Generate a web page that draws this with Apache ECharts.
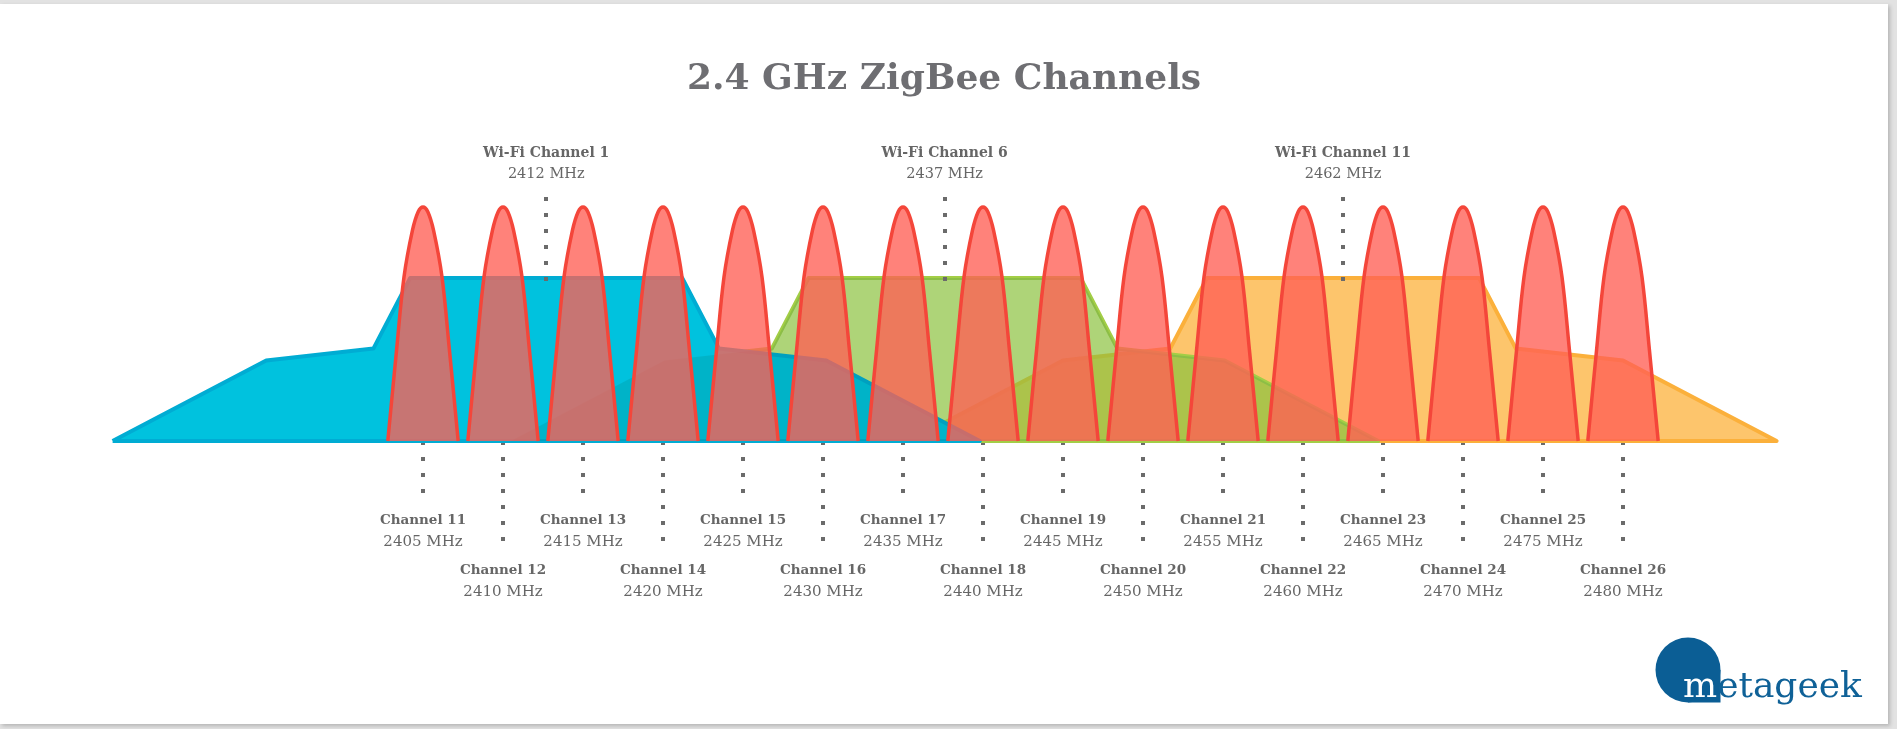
<!DOCTYPE html>
<html><head><meta charset="utf-8">
<script src="https://cdn.jsdelivr.net/npm/echarts@6/dist/echarts.min.js"></script>
<style>
html,body{margin:0;padding:0;background:#e2e2e2;width:1897px;height:729px;overflow:hidden}
#paper{position:absolute;left:0;top:4px;width:1888px;height:720px;background:#fff;box-shadow:2px 2px 4px rgba(0,0,0,0.20)}
#chart{width:1888px;height:720px}
</style></head><body>
<div id="paper"><div id="chart"></div></div>
<script>
// ---- data ----
const chartTitle = '2.4 GHz ZigBee Channels';
const zigbeeChannels = [11,12,13,14,15,16,17,18,19,20,21,22,23,24,25,26];
const zigbeeMHz = [2405,2410,2415,2420,2425,2430,2435,2440,2445,2450,2455,2460,2465,2470,2475,2480];
const wifiChannels = [1, 6, 11];
const wifiMHz = [2412, 2437, 2462];
// centre of each Wi-Fi mask as drawn in the picture (MHz on the axis)
const wifiCenters = [2412.7, 2437.6, 2462.5];
// Wi-Fi spectral mask outline: [offset MHz, relative level]
const wifiMask = [[-27.1,0],[-17.5,34.4],[-10.8,39.5],[-8.5,69.7],[8.5,69.7],[10.8,39.5],[17.5,34.4],[27.1,0],[-27.1,0]];
// ZigBee lobe outline: [offset MHz, relative level]
const zigbeeLobe = [[-2.2,0],[-1.65,39],[-1.19,70],[-0.66,90],[-0.3,98],[0,100],[0.3,98],[0.66,90],[1.19,70],[1.65,39],[2.2,0]];
const markerTop = 104.3;
const markerBottom = 68.4;

// ---- styling ----
const FONT = 'DejaVu Serif';
const GREY = '#666666';
const wifiFill = ['#00c2de', 'rgba(174,219,60,0.65)', '#fdc56c'];
const wifiStroke = ['#00acd3', '#a3ce46', '#fbb03b'];
const wifiZ = [4, 3, 2]; // blue in front, orange at back

const series = [];
[2, 1, 0].forEach(i => {
  const c = wifiCenters[i];
  series.push({
    type: 'line', name: 'Wi-Fi Channel ' + wifiChannels[i],
    data: wifiMask.map(p => [c + p[0], p[1]]),
    symbol: 'none', silent: true, z: wifiZ[i],
    lineStyle: { color: wifiStroke[i], width: 4, join: 'round' },
    areaStyle: { color: wifiFill[i], opacity: 1 },
    markLine: {
      silent: true, symbol: ['none', 'none'], z: 8,
      lineStyle: { color: '#6b6b6b', width: 4, type: [4, 12], cap: 'butt' },
      label: {
        show: true, position: 'end', distance: 12,
        formatter: '{b|Wi-Fi Channel ' + wifiChannels[i] + '}\n{r|' + wifiMHz[i] + ' MHz}',
        rich: {
          b: { fontFamily: FONT, fontWeight: 'bold', fontSize: 14, color: GREY, lineHeight: 21, align: 'center' },
          r: { fontFamily: FONT, fontSize: 14.5, color: GREY, lineHeight: 21, align: 'center' }
        }
      },
      data: [[{ coord: [c, markerBottom] }, { coord: [c, markerTop] }]]
    }
  });
});
// faint tint of the Wi-Fi 6 mask laid over the blue mask (the overlap reads darker teal)
series.push({
  type: 'line', name: 'Wi-Fi Channel 6 overlap',
  data: wifiMask.map(p => [wifiCenters[1] + p[0], p[1]]),
  symbol: 'none', silent: true, z: 5,
  lineStyle: { width: 0, opacity: 0 },
  areaStyle: { color: 'rgba(0,90,70,0.14)', opacity: 1 }
});
zigbeeMHz.forEach((f, k) => {
  series.push({
    type: 'line', name: 'Channel ' + zigbeeChannels[k],
    data: zigbeeLobe.map(p => [f + p[0], p[1]]),
    symbol: 'none', silent: true, z: 6, smooth: 0.35,
    lineStyle: { color: '#f4463a', width: 3.5 },
    areaStyle: { color: 'rgba(255,95,85,0.78)', opacity: 1 }
  });
});

const oddMHz = zigbeeMHz.filter((v, k) => k % 2 === 0);
const evenMHz = zigbeeMHz.filter((v, k) => k % 2 === 1);
function chLabel(v) {
  const k = zigbeeMHz.indexOf(Math.round(v));
  if (k < 0) return '';
  return '{b|Channel ' + zigbeeChannels[k] + '}\n{r|' + zigbeeMHz[k] + ' MHz}';
}
const labelRich = {
  b: { fontFamily: FONT, fontWeight: 'bold', fontSize: 13.5, color: GREY, lineHeight: 22, align: 'center' },
  r: { fontFamily: FONT, fontSize: 15, color: GREY, lineHeight: 22, align: 'center' }
};
function makeX(vals, tickLen, margin) {
  return {
    type: 'value', min: 2380, max: 2495, position: 'bottom',
    axisLine: { show: false }, splitLine: { show: false },
    axisTick: { show: true, customValues: vals, length: tickLen,
      lineStyle: { color: '#6b6b6b', width: 4, type: [4, 12], cap: 'butt' } },
    axisLabel: { show: true, customValues: vals, margin: margin, formatter: chLabel, rich: labelRich }
  };
}

const chart = echarts.init(document.getElementById('chart'), null, { renderer: 'canvas' });
chart.setOption({
  animation: false,
  backgroundColor: 'transparent',
  title: {
    text: chartTitle, left: 'center', top: 53,
    textStyle: { fontFamily: FONT, fontWeight: 'bold', fontSize: 36, color: '#6e6e72' }
  },
  grid: { left: 23, right: 25, top: 179.6, bottom: 283, containLabel: false },
  xAxis: [makeX(oddMHz, 56, 68), makeX(evenMHz, 104, 118)],
  yAxis: { type: 'value', min: 0, max: 110, show: false },
  series: series,
  graphic: [
    { type: 'circle', shape: { cx: 1688, cy: 666, r: 32.5 }, style: { fill: '#0b5e95' }, silent: true },
    { type: 'rect', shape: { x: 1688, y: 666, width: 32.5, height: 32.5 }, style: { fill: '#0b5e95' }, silent: true },
    { type: 'text', x: 1683, y: 684, silent: true,
      style: { text: '{w|m}{b|etageek}', verticalAlign: 'middle',
        rich: { w: { fill: '#ffffff', fontFamily: FONT, fontSize: 36 }, b: { fill: '#0f6197', fontFamily: FONT, fontSize: 36 } } } }
  ]
});
</script>
</body></html>
